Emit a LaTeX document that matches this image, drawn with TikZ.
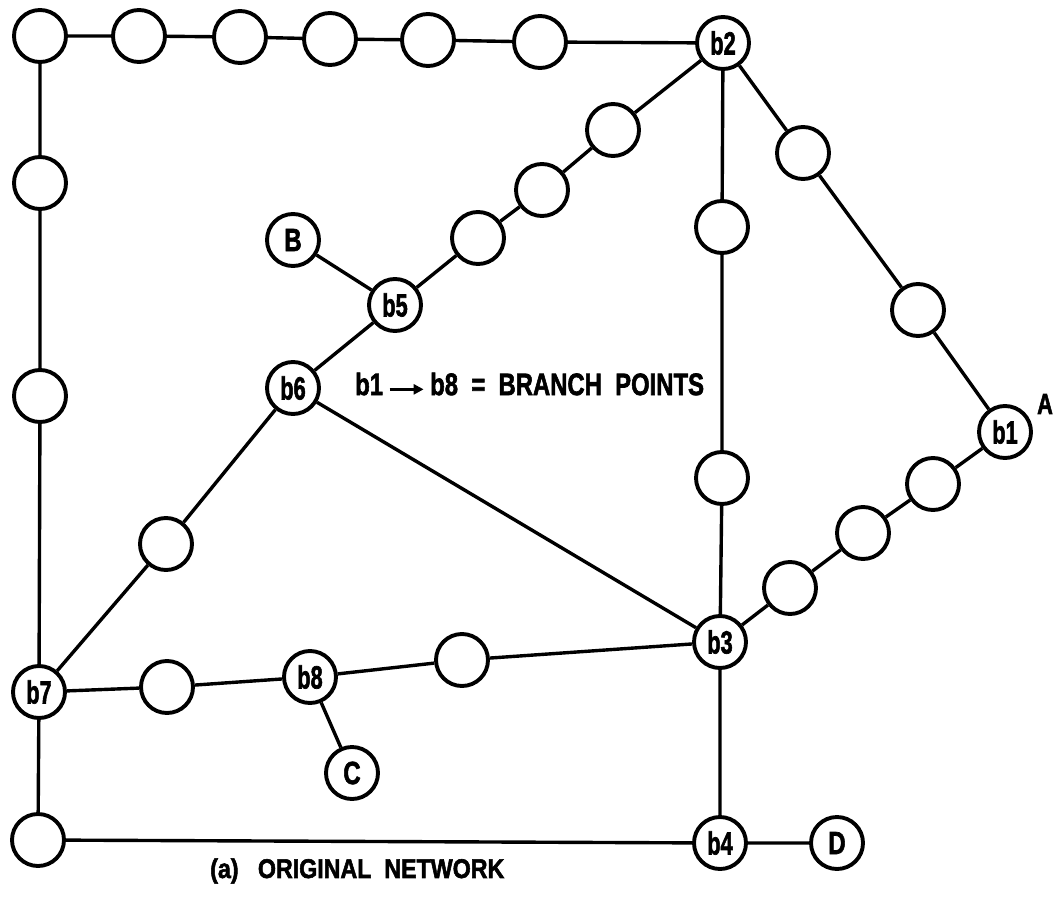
\documentclass[tikz,border=0pt]{standalone}
\usepackage{fontspec}
\usepackage{graphicx}
\setmainfont{Liberation Sans}
\newfontfamily\heavy{Liberation Sans Bold}[FakeBold=2.2]
\usetikzlibrary{arrows.meta}
\newcommand\cnd[2]{\scalebox{#1}[1]{\heavy #2}}
\begin{document}
\begin{tikzpicture}[x=1pt,y=-1pt,
  nd/.style={circle,draw=black,line width=3.9pt,fill=white,minimum size=52pt,inner sep=0pt,
    font=\fontsize{32}{32}\selectfont},
  ln/.style={line width=3.4pt,black},
  lbl/.style={inner sep=0pt}]
\useasboundingbox (0,0) rectangle (1059,896);
% top row
\node[nd] (t1) at (40,36) {};
\node[nd] (t2) at (139,36) {};
\node[nd] (t3) at (240,37) {};
\node[nd] (t4) at (330,39) {};
\node[nd] (t5) at (428,40) {};
\node[nd] (t6) at (540,42) {};
\node[nd] (b2) at (723,43) {\cnd{0.68}{b2}};
% left column
\node[nd] (l1) at (40,183) {};
\node[nd] (l2) at (40,396) {};
\node[nd] (b7) at (39,692) {\cnd{0.68}{b7}};
\node[nd] (l3) at (38,840) {};
% bottom
\node[nd] (b4) at (720,843) {\cnd{0.68}{b4}};
\node[nd] (D) at (837,843) {\cnd{0.75}{D}};
% diagonal b2-b5
\node[nd] (d1) at (613,130) {};
\node[nd] (d2) at (542,190) {};
\node[nd] (d3) at (478,238) {};
\node[nd] (b5) at (395,305) {\cnd{0.68}{b5}};
\node[nd] (B) at (293,240) {\cnd{0.75}{B}};
\node[nd] (b6) at (293,388) {\cnd{0.68}{b6}};
\node[nd] (e1) at (166,544) {};
% vertical
\node[nd] (v1) at (722,227) {};
\node[nd] (v2) at (722,478) {};
\node[nd] (b3) at (720,642) {\cnd{0.68}{b3}};
% right side
\node[nd] (r1) at (803,153) {};
\node[nd] (r2) at (918,310) {};
\node[nd] (b1) at (1005,432) {\cnd{0.68}{b1}};
\node[nd] (s1) at (933,484) {};
\node[nd] (s2) at (863,533) {};
\node[nd] (s3) at (790,588) {};
% b7-b3 chain
\node[nd] (h1) at (167,687) {};
\node[nd] (b8) at (310,677) {\cnd{0.68}{b8}};
\node[nd] (h2) at (462,660) {};
\node[nd] (C) at (352,773) {\cnd{0.75}{C}};
% labels
\node[lbl,font=\fontsize{29}{29}\selectfont] (A) at (1045,404) {\cnd{0.75}{A}};
\node[lbl,anchor=west,font=\fontsize{31}{31}\selectfont] (bp) at (355,384)
  {\cnd{0.77}{b1}\,\tikz[baseline=-0.35ex]\draw[line width=2.8pt,-{Triangle[length=10pt,width=10pt]}] (0,0)--(34pt,0);\,\cnd{0.77}{b8\ \ =\ \ BRANCH\ \ POINTS}};
\node[lbl,anchor=west,font=\fontsize{27}{27}\selectfont] (cap) at (210,871) {\cnd{0.86}{(a)\ \ \ ORIGINAL\ \ NETWORK}};
% edges
\draw[ln] (t1)--(t2) (t2)--(t3) (t3)--(t4) (t4)--(t5) (t5)--(t6) (t6)--(b2);
\draw[ln] (t1)--(l1) (l1)--(l2) (l2)--(b7) (b7)--(l3) (l3)--(b4) (b4)--(D);
\draw[ln] (b2)--(d1) (d1)--(d2) (d2)--(d3) (d3)--(b5) (B)--(b5) (b5)--(b6);
\draw[ln] (b6)--(e1) (e1)--(b7) (b6)--(b3);
\draw[ln] (b2)--(v1) (v1)--(v2) (v2)--(b3) (b3)--(b4);
\draw[ln] (b2)--(r1) (r1)--(r2) (r2)--(b1);
\draw[ln] (b1)--(s1) (s1)--(s2) (s2)--(s3) (s3)--(b3);
\draw[ln] (b7)--(h1) (h1)--(b8) (b8)--(h2) (h2)--(b3) (b8)--(C);
\end{tikzpicture}
\end{document}
